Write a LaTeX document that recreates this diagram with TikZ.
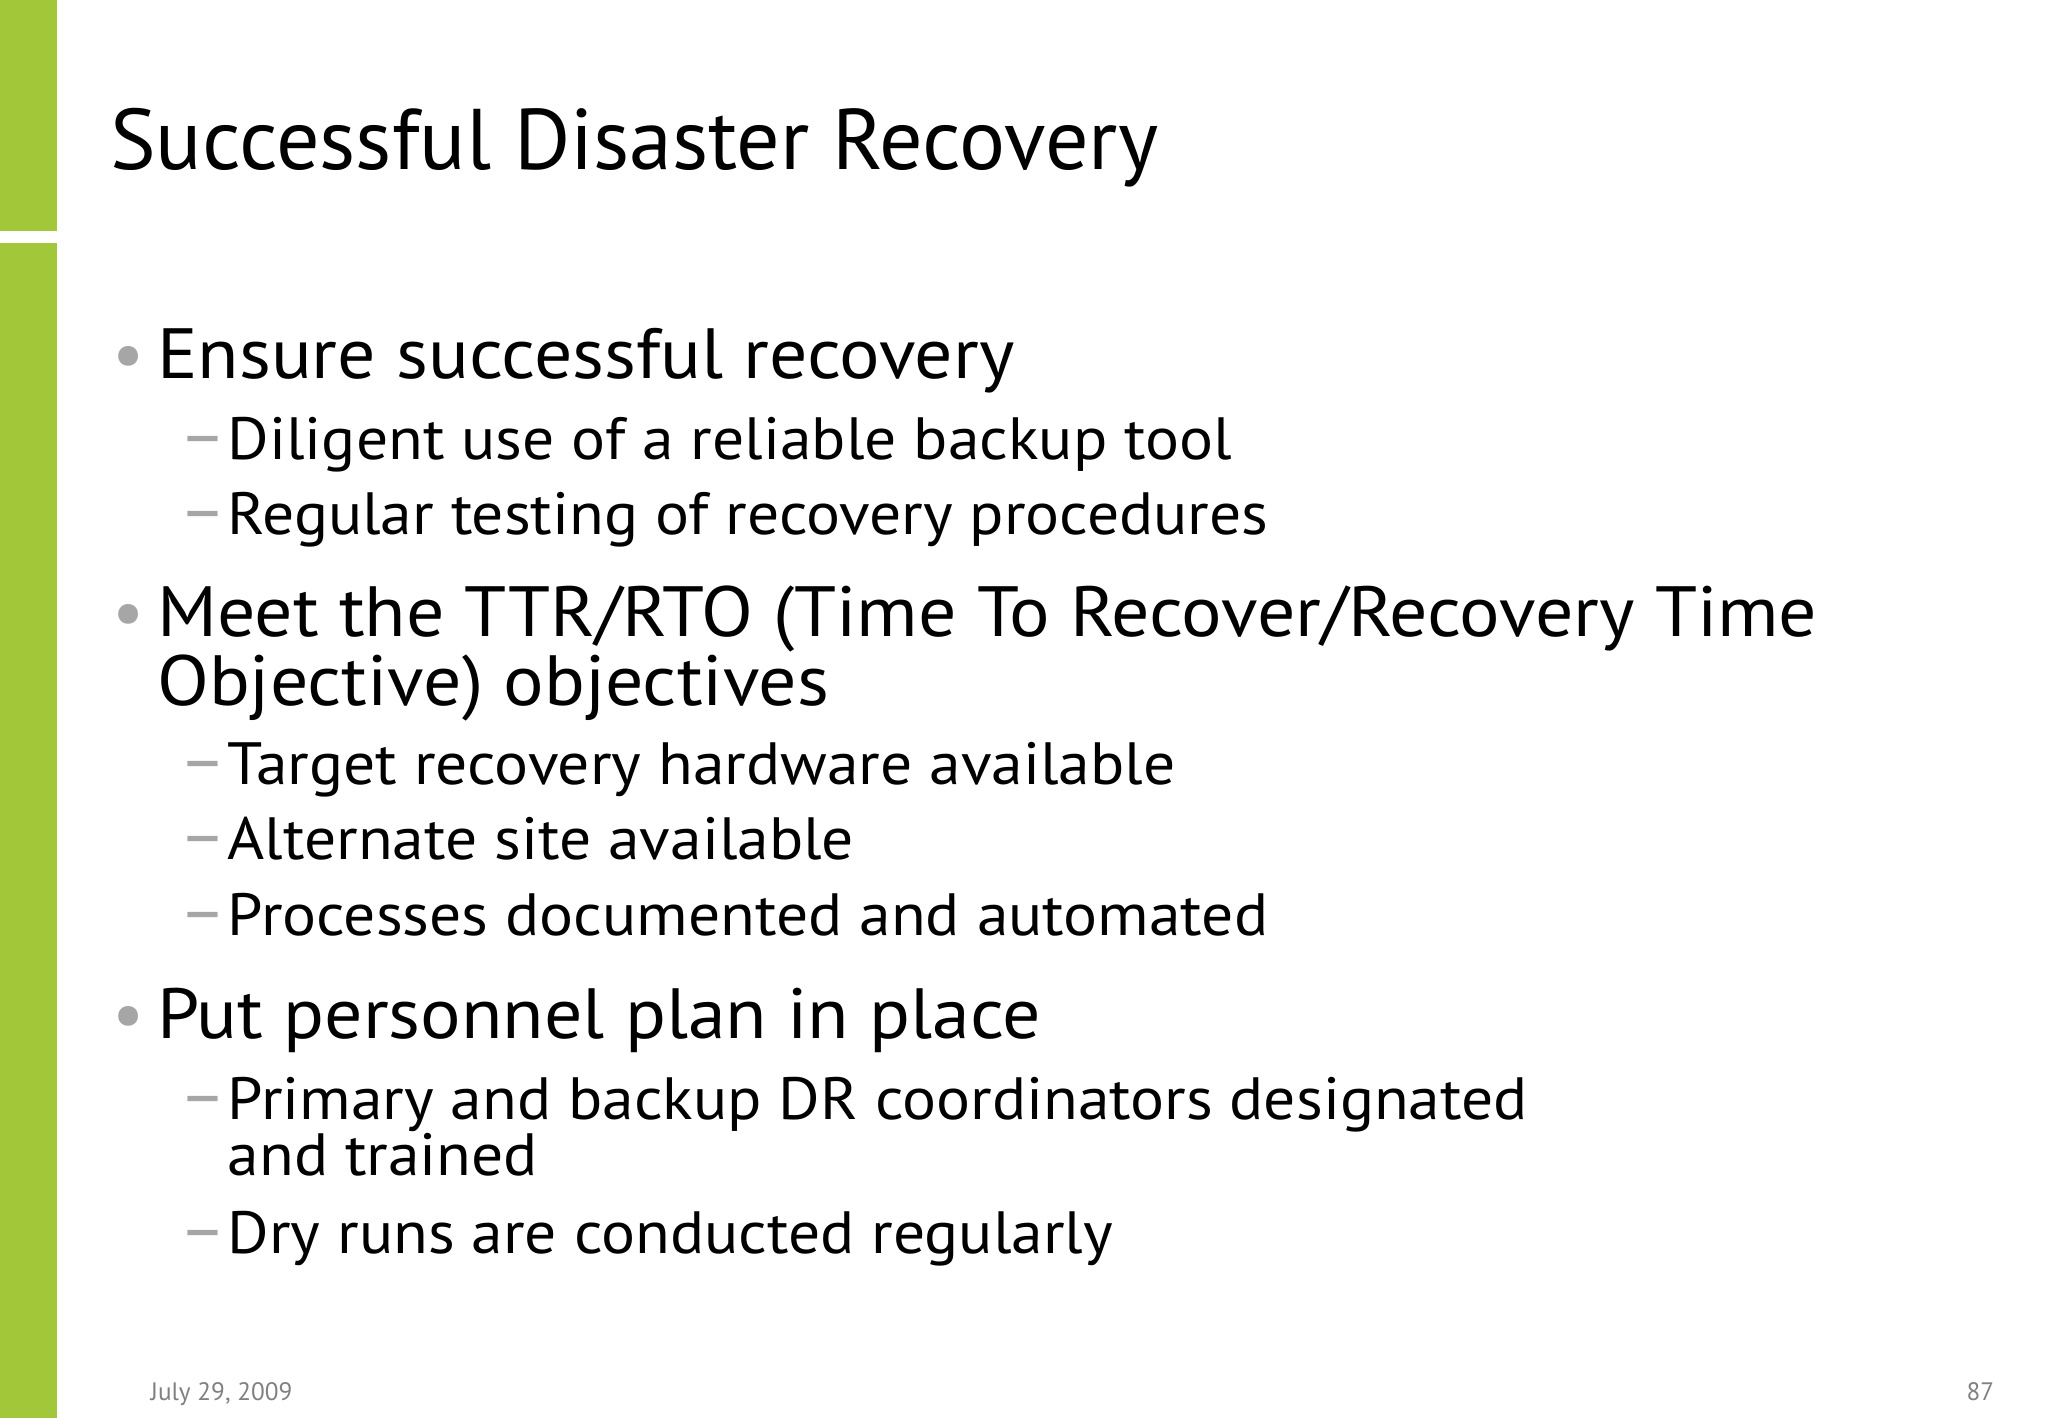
\documentclass[tikz,border=0pt]{standalone}
\usepackage{fontspec}
\setmainfont{PT Sans}
\newfontfamily\bodyfont[FakeStretch=1.065]{PT Sans}
\begin{document}
\begin{tikzpicture}[x=0.02cm,y=-0.02cm,
  lone/.style={anchor=base west,inner sep=0pt,font=\bodyfont\fontsize{31}{36}\selectfont},
  ltwo/.style={anchor=base west,inner sep=0pt,font=\bodyfont\fontsize{26}{30}\selectfont},
  bul/.style={anchor=base west,inner sep=0pt,text=gray!70,font=\fontsize{31}{36}\selectfont},
  foot/.style={inner sep=0pt,text=gray,font=\fontsize{11}{13}\selectfont}]
\useasboundingbox (0,0) rectangle (1568,1086);
\definecolor{bargreen}{RGB}{162,200,58}
\fill[bargreen] (0,0) rectangle (44,177);
\fill[bargreen] (0,186) rectangle (44,1086);
\node[anchor=base west,inner sep=0pt,font=\fontsize{37.5}{44}\selectfont] (title) at (84,130) {Successful Disaster Recovery};
\node[bul] (b1) at (86,290) {•}; \node[lone] (t1) at (120,290) {Ensure successful recovery};
\node[bul] (d1) at (137,352) {–}; \node[ltwo] (t2) at (174,352) {Diligent use of a reliable backup tool};
\node[bul] (d2) at (137,409) {–}; \node[ltwo] (t3) at (174,409) {Regular testing of recovery procedures};
\node[bul] (b2) at (86,487) {•}; \node[lone] (t4) at (120,487) {Meet the TTR/RTO (Time To Recover/Recovery Time};
\node[lone] (t5) at (120,540) {Objective) objectives};
\node[bul] (d3) at (137,601) {–}; \node[ltwo] (t6) at (174,601) {Target recovery hardware available};
\node[bul] (d4) at (137,658) {–}; \node[ltwo] (t7) at (174,658) {Alternate site available};
\node[bul] (d5) at (137,716) {–}; \node[ltwo] (t8) at (174,716) {Processes documented and automated};
\node[bul] (b3) at (86,795) {•}; \node[lone] (t9) at (120,795) {Put personnel plan in place};
\node[bul] (d6) at (137,857) {–}; \node[ltwo] (t10) at (174,857) {Primary and backup DR coordinators designated};
\node[ltwo] (t11) at (174,900) {and trained};
\node[bul] (d7) at (137,960) {–}; \node[ltwo] (t12) at (174,960) {Dry runs are conducted regularly};
\node[foot,anchor=base west] (f1) at (115,1072) {July 29, 2009};
\node[foot,anchor=base east] (f2) at (1527,1072) {87};
\end{tikzpicture}
\end{document}
